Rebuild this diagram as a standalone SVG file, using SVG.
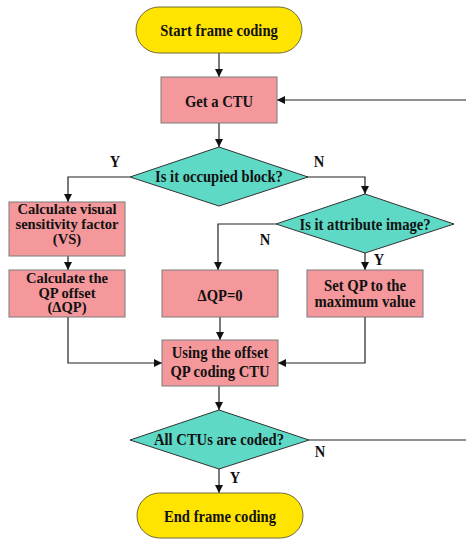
<svg xmlns="http://www.w3.org/2000/svg" width="466" height="540" viewBox="0 0 466 540">
<defs>
<marker id="ah" viewBox="0 0 10 10" refX="10" refY="5" markerWidth="8" markerHeight="8" markerUnits="userSpaceOnUse" orient="auto">
<path d="M0,0 L10,5 L0,10 z" fill="#111"/>
</marker>
<style>
.term{fill:#FFE400;stroke:#6f6a3a;stroke-width:1}
.proc{fill:#F4989B;stroke:#7a7a7a;stroke-width:1}
.dec{fill:#5DD9C5;stroke:#333;stroke-width:1}
.t{font-family:"Liberation Serif","Times New Roman",serif;font-weight:bold;font-size:17px;fill:#111;text-anchor:middle}
.t2{font-family:"Liberation Serif","Times New Roman",serif;font-weight:bold;font-size:16px;fill:#111;text-anchor:middle}
.t3{font-family:"Liberation Serif","Times New Roman",serif;font-weight:bold;font-size:14px;fill:#111;text-anchor:middle}
.lbl{font-family:"Liberation Serif","Times New Roman",serif;font-weight:bold;font-size:17px;fill:#111;text-anchor:middle}
.c{fill:none;stroke:#222;stroke-width:1.2}
.ca{fill:none;stroke:#222;stroke-width:1.2;marker-end:url(#ah)}
</style>
</defs>
<rect width="466" height="540" fill="#fff"/>

<g id="connectors">
<path class="ca" d="M219,53 V77"/>
<path class="ca" d="M466,100 H277"/>
<path class="ca" d="M219,123 V147"/>
<path class="ca" d="M130,177 H68 V202"/>
<path class="ca" d="M307,177 H365 V194"/>
<path class="ca" d="M68,256 V270"/>
<path class="ca" d="M276,224 H218 V270"/>
<path class="ca" d="M365,253 V270"/>
<path class="ca" d="M68,317 V363 H162"/>
<path class="ca" d="M365,317 V363 H278"/>
<path class="ca" d="M220,317 V340"/>
<path class="ca" d="M219,386 V410"/>
<path class="c" d="M309,440 H466"/>
<path class="ca" d="M219,469 V493"/>
<text class="lbl" transform="translate(115,167) scale(0.86,1)">Y</text>
<text class="lbl" transform="translate(319,167) scale(0.86,1)">N</text>
<text class="lbl" transform="translate(265,245) scale(0.86,1)">N</text>
<text class="lbl" transform="translate(379,265) scale(0.86,1)">Y</text>
<text class="lbl" transform="translate(320,457) scale(0.86,1)">N</text>
<text class="lbl" transform="translate(235,483) scale(0.86,1)">Y</text>
</g>

<g id="start">
<rect class="term" x="136" y="7" width="166" height="46" rx="23" ry="23"/>
<text class="t" transform="translate(219,36) scale(0.86,1)">Start frame coding</text>
</g>

<g id="getctu">
<rect class="proc" x="161" y="77" width="116" height="46"/>
<text class="t" transform="translate(219,107) scale(0.86,1)">Get a CTU</text>
</g>

<g id="occupied">
<polygon class="dec" points="219,147 308,177 219,206 130,177"/>
<text class="t" transform="translate(219,182) scale(0.86,1)">Is it occupied block?</text>
</g>

<g id="vs">
<rect class="proc" x="9" y="202" width="116" height="54"/>
<text class="t3" transform="translate(67,214) scale(1.04,1)">Calculate visual</text>
<text class="t3" transform="translate(67,229) scale(1.04,1)">sensitivity factor</text>
<text class="t3" transform="translate(67,244) scale(1.04,1)">(VS)</text>
</g>

<g id="attribute">
<polygon class="dec" points="365,194 454,224 365,253 276,224"/>
<text class="t" transform="translate(365,230) scale(0.86,1)">Is it attribute image?</text>
</g>

<g id="qpoffset">
<rect class="proc" x="9" y="270" width="116" height="47"/>
<text class="t3" transform="translate(67,283) scale(1.04,1)">Calculate the</text>
<text class="t3" transform="translate(67,297.5) scale(1.04,1)">QP offset</text>
<text class="t3" transform="translate(67,312) scale(1.04,1)">(ΔQP)</text>
</g>

<g id="dqp0">
<rect class="proc" x="162" y="270" width="116" height="47"/>
<text class="t" transform="translate(220,301) scale(0.86,1)">ΔQP=0</text>
</g>

<g id="setqp">
<rect class="proc" x="307" y="270" width="116" height="47"/>
<text class="t2" transform="translate(365,291) scale(0.92,1)">Set QP to the</text>
<text class="t2" transform="translate(365,307) scale(0.92,1)">maximum value</text>
</g>

<g id="using">
<rect class="proc" x="162" y="340" width="116" height="46"/>
<text class="t" transform="translate(220,358) scale(0.86,1)">Using the offset</text>
<text class="t" transform="translate(220,377) scale(0.86,1)">QP coding CTU</text>
</g>

<g id="allcoded">
<polygon class="dec" points="219,410 309,440 219,469 130,440"/>
<text class="t" transform="translate(219,445) scale(0.86,1)">All CTUs are coded?</text>
</g>

<g id="end">
<rect class="term" x="137" y="493" width="166" height="45" rx="22.5" ry="22.5"/>
<text class="t" transform="translate(220,522) scale(0.86,1)">End frame coding</text>
</g>
</svg>
